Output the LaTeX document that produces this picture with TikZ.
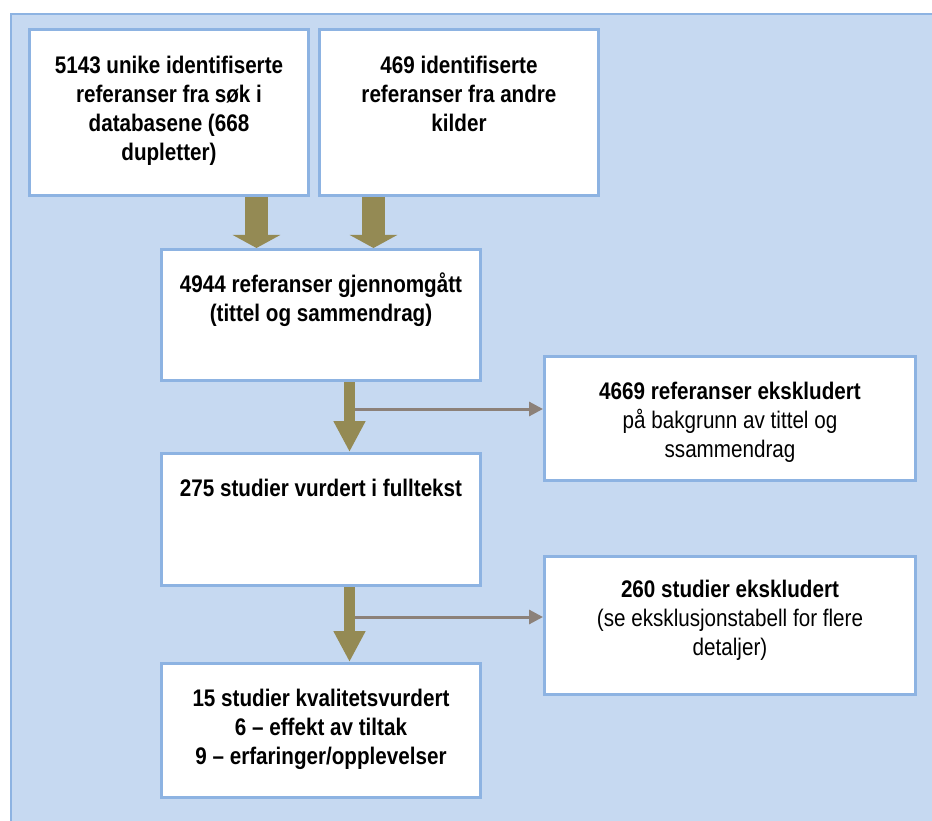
\documentclass[tikz,border=0pt]{standalone}
\usepackage{fontspec}
\setmainfont{Liberation Sans}[FakeStretch=0.86]
\usetikzlibrary{arrows.meta}
\definecolor{bgblue}{HTML}{C6D9F1}
\definecolor{bdblue}{HTML}{8DB3E2}
\definecolor{olivearrow}{HTML}{948A54}
\definecolor{grayarrow}{HTML}{8C8179}
\newcommand{\mylines}[1]{\begin{tabular}[t]{@{}c@{}}#1\end{tabular}}
\begin{document}
\begin{tikzpicture}[x=1pt,y=-1pt,
  box/.style={draw=bdblue, line width=3pt, fill=white, rectangle, inner sep=0pt},
  txt/.style={anchor=base, inner sep=0pt, font=\fontsize{24}{29}\selectfont},
  bigarrow/.style={color=olivearrow, line width=23pt, -{Triangle[width=47pt,length=13pt]}},
  smallarrow/.style={color=olivearrow, line width=11pt, -{Triangle[width=30pt,length=31pt]}},
  thinarrow/.style={color=grayarrow, line width=3pt, -{Triangle[width=14pt,length=14pt]}}]
\useasboundingbox (0,0) rectangle (932,821);
\fill[bgblue] (11,14) rectangle (945,835);
\draw[bdblue, line width=2pt] (11,835) -- (11,14) -- (945,14);

\node[box, minimum width=279pt, minimum height=166pt] (b1) at (169,112.5) {};
\node[box, minimum width=279pt, minimum height=166pt] (b2) at (459,112.5) {};
\node[box, minimum width=319pt, minimum height=131pt] (b3) at (321,315) {};
\node[box, minimum width=371pt, minimum height=124pt] (b4) at (730,418.5) {};
\node[box, minimum width=319pt, minimum height=132pt] (b5) at (321,519.5) {};
\node[box, minimum width=371pt, minimum height=138pt] (b6) at (730,625.5) {};
\node[box, minimum width=319pt, minimum height=134pt] (b7) at (321,730.5) {};

\node[txt] (t1) at (169,74) {\bfseries\mylines{5143 unike identifiserte\\referanser fra søk i\\databasene (668\\dupletter)}};
\node[txt] (t2) at (459,74) {\bfseries\mylines{469 identifiserte\\referanser fra andre\\kilder}};
\node[txt] (t3) at (321,292) {\bfseries\mylines{4944 referanser gjennomgått\\(tittel og sammendrag)}};
\node[txt] (t4) at (730,399) {\mylines{\textbf{4669 referanser ekskludert}\\på bakgrunn av tittel og\\ssammendrag}};
\node[txt] (t5) at (321,496) {\bfseries\mylines{275 studier vurdert i fulltekst}};
\node[txt] (t6) at (730,597) {\mylines{\textbf{260 studier ekskludert}\\(se eksklusjonstabell for flere\\detaljer)}};
\node[txt] (t7) at (321,706) {\bfseries\mylines{15 studier kvalitetsvurdert\\6 – effekt av tiltak\\9 – erfaringer/opplevelser}};

\coordinate (x1) at (256.5,0);
\coordinate (x2) at (373.5,0);
\coordinate (x3) at (349.5,0);
\coordinate (s1) at (354,409);
\coordinate (s2) at (354,617);

\draw[thinarrow] (s1) -- (s1 -| b4.west);
\draw[thinarrow] (s2) -- (s2 -| b6.west);
\draw[bigarrow] (b1.south -| x1) -- (b3.north -| x1);
\draw[bigarrow] (b2.south -| x2) -- (b3.north -| x2);
\draw[smallarrow] (b3.south -| x3) -- (b5.north -| x3);
\draw[smallarrow] (b5.south -| x3) -- (b7.north -| x3);
\end{tikzpicture}
\end{document}
